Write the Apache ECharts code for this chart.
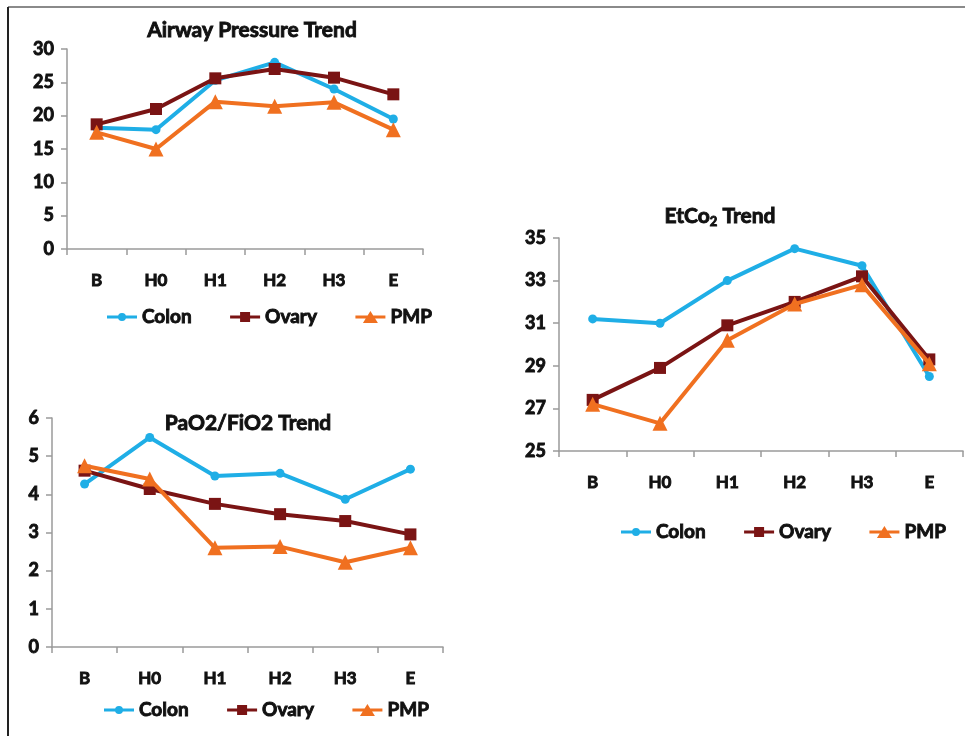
<!DOCTYPE html>
<html>
<head>
<meta charset="utf-8">
<script src="https://cdn.jsdelivr.net/npm/echarts@6/dist/echarts.min.js"></script>
<style>
html,body{margin:0;padding:0;background:#fff;}
#c{width:965px;height:736px;}
</style>
</head>
<body>
<div id="c"></div>
<script>
var categories = ['B', 'H0', 'H1', 'H2', 'H3', 'E'];
var seriesNames = ['Colon', 'Ovary', 'PMP'];

var airwayColon = [18.2, 17.9, 25.3, 28.0, 24.0, 19.5];
var airwayOvary = [18.7, 21.0, 25.6, 27.0, 25.7, 23.2];
var airwayPMP   = [17.5, 15.0, 22.1, 21.4, 22.0, 17.9];

var etco2Colon = [31.2, 31.0, 33.0, 34.5, 33.7, 28.5];
var etco2Ovary = [27.4, 28.9, 30.9, 32.0, 33.2, 29.3];
var etco2PMP   = [27.2, 26.3, 30.2, 31.9, 32.8, 29.1];

var pfColon = [4.27, 5.49, 4.48, 4.55, 3.87, 4.66];
var pfOvary = [4.62, 4.14, 3.75, 3.48, 3.30, 2.95];
var pfPMP   = [4.75, 4.40, 2.60, 2.63, 2.22, 2.60];

var airwayTicks = {min: 0, max: 30, interval: 5};
var etco2Ticks = {min: 25, max: 35, interval: 2};
var pfTicks = {min: 0, max: 6, interval: 1};

var FONT = 'Lato, "Open Sans", "Liberation Sans", sans-serif';
var colors = ['#1FAEE6', '#7A1414', '#F07020'];
var symbols = ['circle', 'rect', 'triangle'];
var symbolSizes = [9, 12, 15];

// legend icons: thick line with marker (bbox padded to 30x12)
var pad = 'M0,0 L0.01,0 L0,0.01 Z M30,12 L29.99,12 L30,11.99 Z ';
var legendIcons = [
  'path://' + pad + 'M0,4.5 L30,4.5 L30,7.5 L0,7.5 Z M11,6 A4,4 0 1,1 19,6 A4,4 0 1,1 11,6 Z',
  'path://' + pad + 'M0,4.5 L30,4.5 L30,7.5 L0,7.5 Z M10,1 L20,1 L20,11 L10,11 Z',
  'path://' + pad + 'M0,4.5 L30,4.5 L30,7.5 L0,7.5 Z M15,0 L22.5,12 L7.5,12 Z'
];

var grids = [
  {left: 67, top: 49, width: 356, height: 200},
  {left: 559, top: 238, width: 404, height: 213},
  {left: 52, top: 418, width: 391, height: 229}
];
var ticks = [airwayTicks, etco2Ticks, pfTicks];
var data = [
  [airwayColon, airwayOvary, airwayPMP],
  [etco2Colon, etco2Ovary, etco2PMP],
  [pfColon, pfOvary, pfPMP]
];

var axisColor = '#9a9a9a';
var heavy = {textBorderColor: '#111', textBorderWidth: 0.9};
var labelStyle = Object.assign({color: '#111', fontFamily: FONT, fontWeight: 'bold', fontSize: 17}, heavy);

var xAxes = [], yAxes = [], series = [];
for (var g = 0; g < 3; g++) {
  xAxes.push({
    type: 'category', gridIndex: g, data: categories, boundaryGap: true,
    axisLine: {lineStyle: {color: axisColor, width: 1.5}},
    axisTick: {show: true, length: 6, lineStyle: {color: axisColor, width: 1.5}},
    axisLabel: Object.assign({margin: 23}, labelStyle),
    splitLine: {show: false}
  });
  yAxes.push({
    type: 'value', gridIndex: g, min: ticks[g].min, max: ticks[g].max, interval: ticks[g].interval,
    axisLine: {show: true, lineStyle: {color: axisColor, width: 1.5}},
    axisTick: {show: true, length: 6, lineStyle: {color: axisColor, width: 1.5}},
    axisLabel: Object.assign({margin: 13}, labelStyle, {fontSize: 18}),
    splitLine: {show: false}
  });
  for (var s = 0; s < 3; s++) {
    series.push({
      name: seriesNames[s], type: 'line', xAxisIndex: g, yAxisIndex: g,
      data: data[g][s], symbol: symbols[s], symbolSize: symbolSizes[s],
      itemStyle: {color: colors[s]},
      lineStyle: {color: colors[s], width: 4},
      z: s === 0 ? 2 : (s === 1 ? 3 : 4),
      animation: false
    });
  }
}

var legendText = Object.assign({color: '#111', fontFamily: FONT, fontWeight: 'bold', fontSize: 19}, heavy);
var legendData = seriesNames.map(function (n, i) { return {name: n, icon: legendIcons[i]}; });
function makeLegend(left, top, gap) {
  return {
    left: left, top: top, orient: 'horizontal', itemGap: gap, itemWidth: 30, itemHeight: 12,
    data: legendData, textStyle: legendText, padding: 0, selectedMode: false
  };
}

var titleStyle = Object.assign({fontFamily: FONT, fontWeight: 'bold', fontSize: 21, color: '#111'}, heavy);

var option = {
  backgroundColor: '#fff',
  animation: false,
  title: [
    {text: 'Airway Pressure Trend', left: 247, top: 15, textAlign: 'center', textStyle: titleStyle},
    {text: '{a|EtCo}{s|2}{a| Trend}', left: 715, top: 199, textAlign: 'center',
     textStyle: {rich: {
       a: titleStyle,
       s: Object.assign({}, titleStyle, {fontSize: 13, padding: [11, 0, 0, 0]})
     }}},
    {text: 'PaO2/FiO2 Trend', left: 243, top: 408, textAlign: 'center', textStyle: titleStyle}
  ],
  legend: [
    makeLegend(107, 307, 38),
    makeLegend(621, 522, 38),
    makeLegend(104, 700, 38)
  ],
  grid: grids,
  xAxis: xAxes,
  yAxis: yAxes,
  series: series,
  graphic: [
    {type: 'line', shape: {x1: 8, y1: 7, x2: 965, y2: 7}, style: {stroke: '#8a8a8a', lineWidth: 2}},
    {type: 'line', shape: {x1: 8, y1: 7, x2: 8, y2: 736}, style: {stroke: '#222', lineWidth: 2}}
  ]
};

var chart = echarts.init(document.getElementById('c'), null, {renderer: 'canvas'});
chart.setOption(option);
</script>
</body>
</html>
